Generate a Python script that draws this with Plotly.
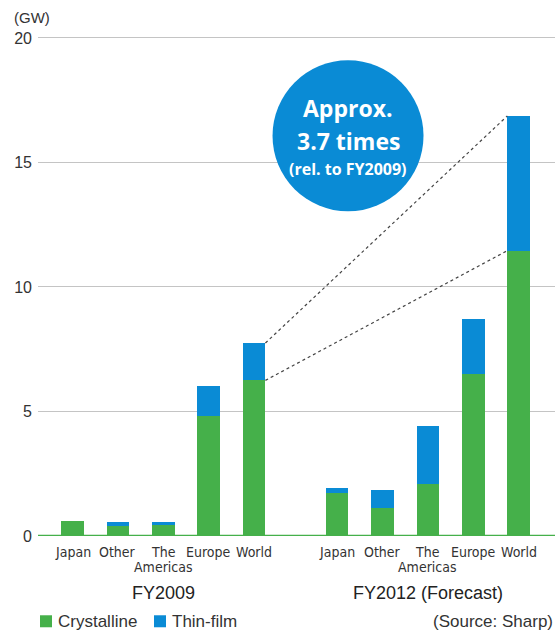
import plotly.graph_objects as go

# Solar cell demand by region, crystalline vs thin-film (GW)
regions = ["Japan", "Other", "The<br>Americas", "Europe", "World"]
crystalline_2009 = [0.60, 0.42, 0.45, 4.82, 6.25]
thin_film_2009 = [0.00, 0.14, 0.12, 1.20, 1.50]
crystalline_2012 = [1.72, 1.12, 2.08, 6.50, 11.46]
thin_film_2012 = [0.20, 0.72, 2.33, 2.21, 5.41]
group_labels = ["FY2009", "FY2012 (Forecast)"]
y_ticks = [0, 5, 10, 15, 20]
callout_lines = ["Approx.", "3.7 times", "(rel. to FY2009)"]

GREEN = "#45b04a"
BLUE = "#0a8bd5"
TEXT = "#333333"
NARROW = "Liberation Sans Narrow, DejaVu Sans Condensed, Roboto Condensed, Arial Narrow, sans-serif"
SANS = "Liberation Sans, Arial, sans-serif"

PX_PER_GW = 24.91
Y_TOP = 20.2
PLOT_H = Y_TOP * PX_PER_GW
TOP = 535.7 - PLOT_H
PLOT_W = 517

group_gap = 1.83
x_2009 = list(range(len(regions)))
x_2012 = [i + len(regions) - 1 + group_gap for i in range(len(regions))]
bar_w = 0.5

fig = go.Figure()
for xs, cr, tf in [(x_2009, crystalline_2009, thin_film_2009),
                   (x_2012, crystalline_2012, thin_film_2012)]:
    fig.add_trace(go.Bar(x=xs, y=cr, width=bar_w, marker=dict(color=GREEN, line_width=0),
                         name="Crystalline", showlegend=False))
    fig.add_trace(go.Bar(x=xs, y=tf, width=bar_w, marker=dict(color=BLUE, line_width=0),
                         name="Thin-film", showlegend=False))

annotations = []
shapes = []


def py(pix):
    """Paper y for a pixel row of the page."""
    return (535.7 - pix) / PLOT_H


def px(pix):
    """Paper x for a pixel column of the page."""
    return (pix - 38) / PLOT_W


# Region labels under each bar (multi-line labels set line by line)
for xs in (x_2009, x_2012):
    for xv, label in zip(xs, regions):
        for k, line in enumerate(label.split("<br>")):
            annotations.append(dict(x=xv, y=0, xref="x", yref="y", text=line,
                                    showarrow=False, yanchor="middle",
                                    yshift=-16 - 15 * k,
                                    font=dict(family=NARROW, size=14, color=TEXT)))

# Period labels centred under each group
for xs, label in zip((x_2009, x_2012), group_labels):
    annotations.append(dict(x=(xs[0] + xs[-1]) / 2, y=0, xref="x", yref="y", text=label,
                            showarrow=False, yanchor="middle", yshift=-57,
                            font=dict(family=SANS, size=18, color="#222222")))

# Unit label
annotations.append(dict(x=px(12), y=py(17), xref="paper", yref="paper", xanchor="left",
                        yanchor="middle", text="(GW)", showarrow=False,
                        font=dict(family=SANS, size=15, color=TEXT)))

# Baseline
shapes.append(dict(type="line", xref="paper", yref="y", x0=0, x1=1, y0=0, y1=0,
                   line=dict(color=GREEN, width=2.5), layer="above"))

# Dotted connectors between the World bars
w09, w12 = x_2009[-1], x_2012[-1]
tot09 = crystalline_2009[-1] + thin_film_2009[-1]
tot12 = crystalline_2012[-1] + thin_film_2012[-1]
for a, b in [(tot09, tot12), (crystalline_2009[-1], crystalline_2012[-1])]:
    shapes.append(dict(type="line", xref="x", yref="y",
                       x0=w09 + bar_w / 2, x1=w12 - bar_w / 2, y0=a, y1=b,
                       line=dict(color="#444444", width=1.2, dash="dot")))

# Callout bubble
cx, cy, r = 6.07, 16.07, 75.5
shapes.append(dict(type="circle", xref="x", yref="y", xsizemode="pixel", ysizemode="pixel",
                   xanchor=cx, yanchor=cy, x0=-r, x1=r, y0=-r, y1=r,
                   fillcolor=BLUE, line=dict(width=0), layer="above"))
for line, size, dy in zip(callout_lines, [23, 23, 16], [28, -5, -33]):
    annotations.append(dict(x=cx, y=cy, xref="x", yref="y", text=f"<b>{line}</b>",
                            showarrow=False, yshift=dy, yanchor="middle",
                            font=dict(family="Open Sans, sans-serif", size=size, color="white")))

# Legend drawn as swatches and labels
legend_items = [("Crystalline", GREEN), ("Thin-film", BLUE)]
legend_x = [40, 154]
for (name, col), lx in zip(legend_items, legend_x):
    shapes.append(dict(type="rect", xref="paper", yref="paper",
                       x0=px(lx), x1=px(lx + 12), y0=py(627), y1=py(615),
                       fillcolor=col, line=dict(width=0)))
    annotations.append(dict(x=px(lx + 16), y=py(621), xref="paper", yref="paper",
                            xanchor="left", yanchor="middle", text=name, showarrow=False,
                            font=dict(family=SANS, size=17, color=TEXT)))
annotations.append(dict(x=1, y=py(621), xref="paper", yref="paper",
                        xanchor="right", yanchor="middle", text="(Source: Sharp)",
                        showarrow=False, font=dict(family=SANS, size=17, color=TEXT)))

fig.update_layout(
    width=555, height=631,
    margin=dict(l=38, r=0, t=TOP, b=631 - 535.7),
    barmode="stack",
    plot_bgcolor="white", paper_bgcolor="white",
    shapes=shapes, annotations=annotations,
    xaxis=dict(range=[-0.76, 10.63], showticklabels=False, showgrid=False,
               zeroline=False, showline=False),
    yaxis=dict(range=[0, Y_TOP], tickvals=y_ticks, showgrid=True, gridcolor="#c4c4c4",
               gridwidth=1, zeroline=False, showline=False, ticks="",
               ticklabelstandoff=5,
               tickfont=dict(family=SANS, size=16, color=TEXT)),
    bargap=0,
)

fig.write_html("out.html")
